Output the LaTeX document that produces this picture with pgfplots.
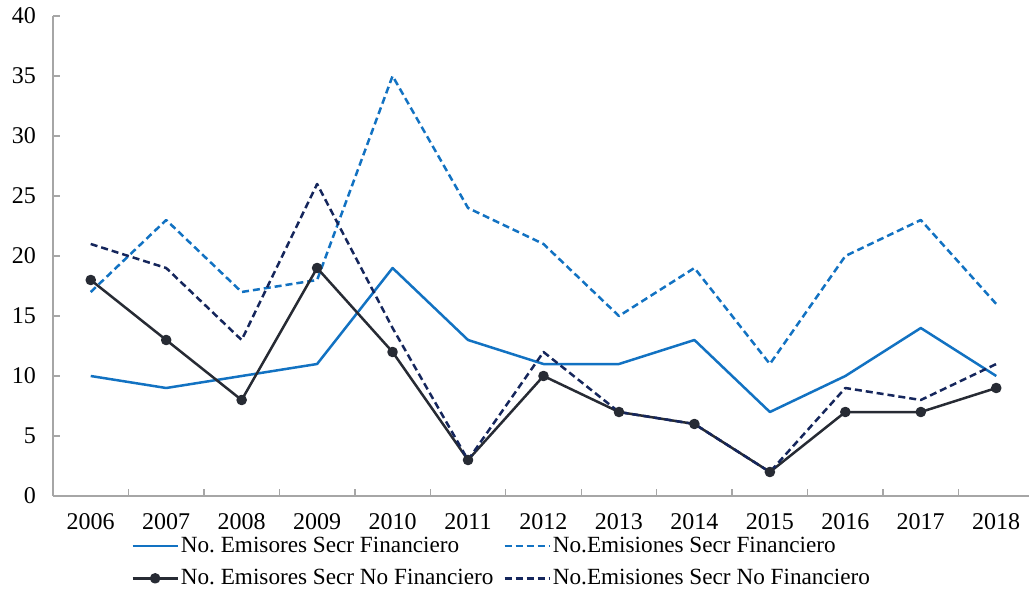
\documentclass[border=0pt]{standalone}
\usepackage{pgfplots}
\pgfplotsset{compat=1.18}
\usepackage{fontspec}
\setmainfont{Liberation Serif}

\definecolor{finblue}{HTML}{1272C2}
\definecolor{nfdark}{HTML}{272B34}
\definecolor{nfnavy}{HTML}{15265C}
\definecolor{axisgray}{HTML}{A6A6A6}

\begin{document}
\frenchspacing
\begin{tikzpicture}
\begin{axis}[
  scale only axis,
  width=490.5pt, height=240pt,
  xmin=2005.5, xmax=2018.5,
  ymin=0, ymax=40,
  axis x line*=bottom, axis y line*=left,
  axis line style={draw=axisgray, line width=0.7pt},
  tick align=inside,
  xtick={2006,...,2018},
  major x tick style={draw=none},
  minor xtick={2006.5,2007.5,...,2017.5},
  ytick={0,5,...,40},
  major tick length=3.5pt, minor tick length=3.5pt,
  every tick/.style={draw=axisgray, line width=0.7pt},
  /pgf/number format/1000 sep={},
  /pgf/number format/assume math mode=true,
  tick label style={font=\fontsize{12}{14}\selectfont},
  x tick label style={yshift=-5pt},
  y tick label style={xshift=-5pt},
  legend columns=2,
  legend cell align=left,
  legend style={
    draw=none, fill=none,
    at={(0.0795,-0.08)}, anchor=north west,
    inner sep=0pt,
    nodes={inner sep=1pt},
    row sep=5pt,
    font=\fontsize{11.6}{13.6}\selectfont,
    /tikz/every even column/.append style={column sep=4pt},
  },
  legend image code/.code={
    \draw[mark repeat=2, mark phase=2, #1]
      plot coordinates {(0pt,0pt) (11.25pt,0pt) (22.5pt,0pt)};
  },
  every axis plot/.append style={line width=1.25pt, line join=round},
]
\coordinate (bl) at (rel axis cs:0,0);

% No. Emisores - sector financiero
\addplot[color=finblue, mark=none] coordinates {
  (2006,10) (2007,9) (2008,10) (2009,11) (2010,19) (2011,13) (2012,11)
  (2013,11) (2014,13) (2015,7) (2016,10) (2017,14) (2018,10)};
\addlegendentry{No. Emisores Secr Financiero}

% No. Emisiones - sector financiero
\addplot[color=finblue, dash pattern=on 3.5pt off 2pt, mark=none] coordinates {
  (2006,17) (2007,23) (2008,17) (2009,18) (2010,35) (2011,24) (2012,21)
  (2013,15) (2014,19) (2015,11) (2016,20) (2017,23) (2018,16)};
\addlegendentry{No.Emisiones Secr Financiero}

% No. Emisores - sector no financiero
\addplot[color=nfdark, mark=*, mark size=2pt,
  mark options={solid, fill=nfdark}] coordinates {
  (2006,18) (2007,13) (2008,8) (2009,19) (2010,12) (2011,3) (2012,10)
  (2013,7) (2014,6) (2015,2) (2016,7) (2017,7) (2018,9)};
\addlegendentry{No. Emisores Secr No Financiero}

% No. Emisiones - sector no financiero
\addplot[color=nfnavy, dash pattern=on 3.5pt off 2pt, mark=none] coordinates {
  (2006,21) (2007,19) (2008,13) (2009,26) (2010,14) (2011,3) (2012,12)
  (2013,7) (2014,6) (2015,2) (2016,9) (2017,8) (2018,11)};
\addlegendentry{No.Emisiones Secr No Financiero}
\end{axis}
\pgfresetboundingbox
\path[use as bounding box] ([shift={(-26.5pt,-47pt)}]bl) rectangle ([shift={(488pt,248pt)}]bl);
\end{tikzpicture}
\end{document}
